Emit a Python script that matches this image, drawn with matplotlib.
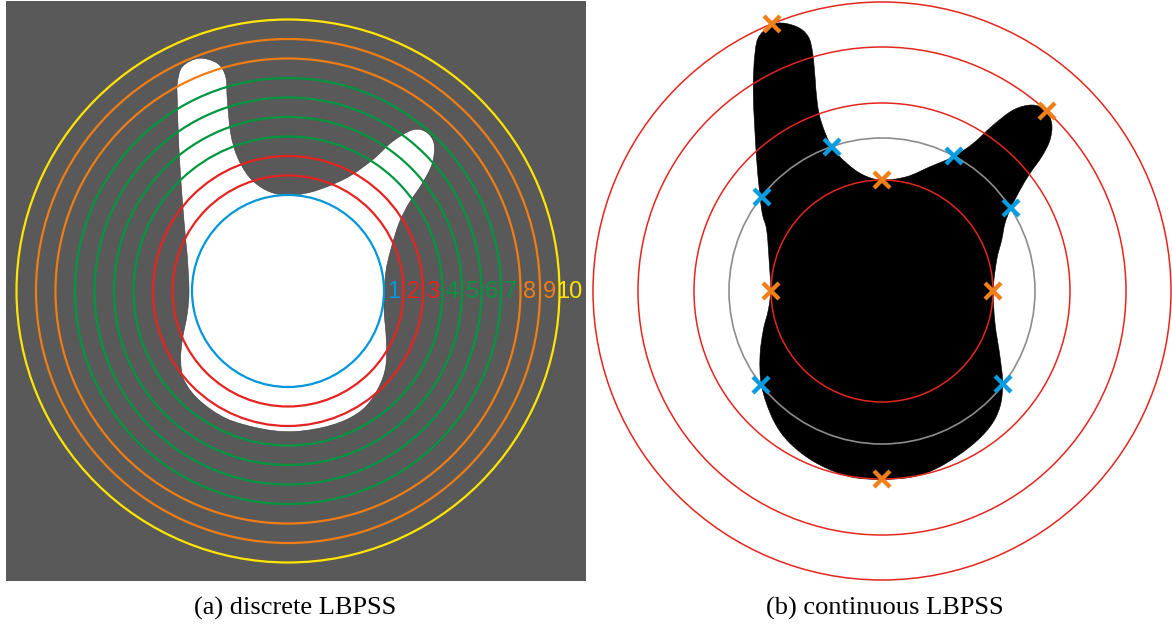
import numpy as np
import matplotlib
matplotlib.use('Agg')
import matplotlib.pyplot as plt
from matplotlib.patches import Circle, PathPatch
from matplotlib.path import Path

# ---- left panel: discrete rings ----
ring_labels = ['1', '2', '3', '4', '5', '6', '7', '8', '9', '10']
ring_radii = [96, 115.5, 135, 154.5, 174, 193.5, 213, 232.5, 252, 271.5]
ring_colors = ['#0096DC', '#E52421', '#E52421', '#009640', '#009640',
               '#009640', '#009640', '#EF7D14', '#EF7D14', '#FFE500']

# outline of the white shape (relative to ring centre, y up)
left_blob_x = [-89, -70.7, -62.3, -60.7, -57.3, -50.7, -39, -22.3, -2.3, 24.3,
               57.7, 84.3, 104.3, 124.3, 137.7, 146, 144.3, 134.3, 121, 111,
               102.7, 97.7, 96, 98.3, 97.7, 91, 77.7, 57.7, 31, 1,
               -29, -62.3, -89, -104, -107.3, -105.7, -100.7, -99, -100.7, -102.3,
               -105.7, -109, -110.7, -110.7, -105.7]
left_blob_y = [232.7, 227.7, 214.3, 191, 157.7, 134.3, 114.3, 101, 96, 99.3,
               112.7, 131, 149.3, 161, 159.3, 147.7, 127.7, 107.7, 87.7, 67.7,
               41, 17.7, -15.7, -49, -75.7, -95.7, -115.7, -129, -137.3, -140.7,
               -137.3, -127.3, -109, -89, -69, -49, -22.3, 1, 34.3, 51,
               91, 141, 191, 207.7, 224.3]

# ---- right panel: continuous rings ----
red_radii = [111, 188, 244, 289]
gray_radius = 153
orange_r = [289, 244, 111, 111, 111, 188]
orange_deg = [112.4, 47.6, 90, 180, 0, 270]
blue_r = [153, 153, 153, 153, 153, 153]
blue_deg = [109.2, 62, 141.9, 32.7, 218, 322.4]

right_blob_x = [-105.3, -85.3, -73.7, -69.3, -67, -64.7, -60.3, -50.3, -35.3, -18.7,
                -0.3, 24.7, 48, 71.3, 91.3, 111.3, 131.3, 149.7, 163, 169.7,
                168, 159.7, 148, 138, 128.7, 123, 119.7, 114.7, 111.3, 113,
                118, 120.7, 118, 108, 88, 58, 31.3, -0.3, -32, -65.3,
                -92, -108.7, -120.3, -122, -118.7, -113.7, -111.3, -112.7, -115.3, -120.3,
                -125.3, -128.7, -127, -122]
right_blob_y = [267.7, 264.3, 254.3, 237.7, 214.3, 187.7, 167.7, 144.3, 127.7, 116,
                111, 114.3, 124.3, 134.3, 147.7, 166, 181, 186, 181, 167.7,
                151, 134.3, 117.7, 101, 82.7, 67.7, 51, 31, 1, -32.3,
                -65.7, -92.3, -115.7, -135.7, -155.7, -175.7, -185.7, -188.3, -185.7, -172.3,
                -152.3, -129, -95.7, -65.7, -39, -19, 1, 27.7, 61, 81,
                131, 197.7, 237.7, 256]

captions = ['(a) discrete LBPSS', '(b) continuous LBPSS']


def smooth_outline(xs, ys):
    # closed Catmull-Rom through the points, drawn as cubic beziers
    p = np.column_stack([xs, ys]).astype(float)
    n = len(p)
    verts = [p[0]]
    codes = [Path.MOVETO]
    for i in range(n):
        p0, p1, p2, p3 = p[i - 1], p[i], p[(i + 1) % n], p[(i + 2) % n]
        verts += [p1 + (p2 - p0) / 6, p2 - (p3 - p1) / 6, p2]
        codes += [Path.CURVE4] * 3
    verts.append(p[0])
    codes.append(Path.CLOSEPOLY)
    return Path(verts, codes)


W, H = 1172, 628
fig = plt.figure(figsize=(W / 100, H / 100), dpi=100)

# left
axl = fig.add_axes([6 / W, (H - 581) / H, 580 / W, 580 / H])
axl.set_xlim(6 - 288, 586 - 288)
axl.set_ylim(291 - 581, 291 - 1)
axl.set_facecolor('#595959')
axl.set_xticks([])
axl.set_yticks([])
for s in axl.spines.values():
    s.set_visible(False)
axl.add_patch(PathPatch(smooth_outline(left_blob_x, left_blob_y), facecolor='white',
                        edgecolor='#3a3a3a', lw=0.4, zorder=1))
for lab, r, c in zip(ring_labels, ring_radii, ring_colors):
    axl.add_patch(Circle((0, 0), r, fill=False, edgecolor=c, lw=1.6, zorder=2))
    axl.text(r + 9.5, -1, lab, color=c, ha='center', va='center', fontsize=17,
             family=['Liberation Sans Narrow', 'Liberation Sans'], zorder=3)

# right
axr = fig.add_axes([590 / W, (H - 581) / H, 582 / W, 581 / H])
axr.set_xlim(590 - 882, 1172 - 882)
axr.set_ylim(291 - 581, 291)
axr.axis('off')
axr.add_patch(PathPatch(smooth_outline(right_blob_x, right_blob_y), facecolor='black',
                        edgecolor='black', lw=0.4, zorder=1))
for r in red_radii:
    axr.add_patch(Circle((0, 0), r, fill=False, edgecolor='#E3261E', lw=1.1, zorder=2))
axr.add_patch(Circle((0, 0), gray_radius, fill=False, edgecolor='#8C8C8C', lw=1.2, zorder=2))

oa = np.deg2rad(orange_deg)
ba = np.deg2rad(blue_deg)
axr.plot(np.array(orange_r) * np.cos(oa), np.array(orange_r) * np.sin(oa), 'x',
         color='#EE7F1B', ms=11, mew=3.1, zorder=4, clip_on=False)
axr.plot(np.array(blue_r) * np.cos(ba), np.array(blue_r) * np.sin(ba), 'x',
         color='#0A9BE0', ms=11, mew=3.1, zorder=4, clip_on=False)

fig.text(295.5 / W, 1 - 608 / H, captions[0], ha='center', va='center',
         fontsize=19, family='Liberation Serif')
fig.text(885 / W, 1 - 608 / H, captions[1], ha='center', va='center',
         fontsize=19, family='Liberation Serif')

fig.savefig('out.png', dpi=100)
